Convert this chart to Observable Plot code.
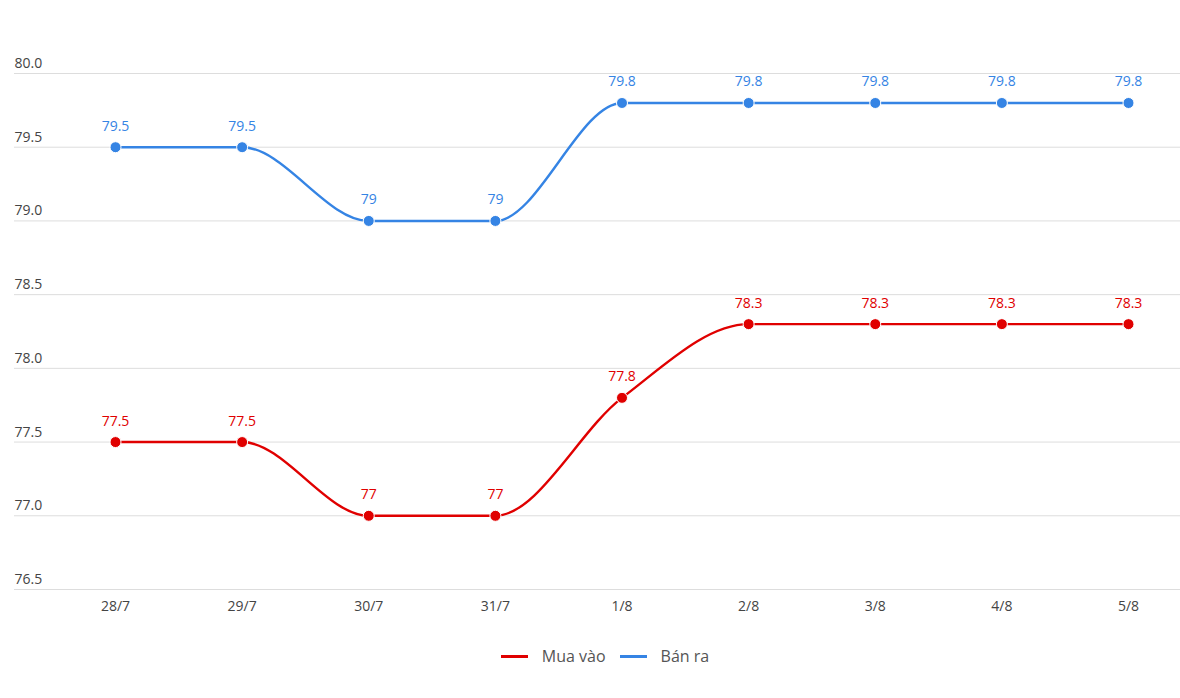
<!DOCTYPE html>
<html><head><meta charset="utf-8">
<script src="https://cdn.jsdelivr.net/npm/d3@7"></script>
<script src="https://cdn.jsdelivr.net/npm/@observablehq/plot@0.6"></script>
<style>
body{margin:0;background:#fff;font-family:"Open Sans",sans-serif;}
#legend{display:flex;justify-content:center;gap:14px;font-size:16px;color:#555;margin-top:15px;font-family:"Open Sans",sans-serif;padding-left:30px;}
#legend span{display:inline-flex;align-items:center;}
#legend i{display:inline-block;width:27px;height:3px;margin-right:14px;}
</style></head><body>
<div id="chart"></div>
<div id="legend"></div>
<script>
const dates = ["28/7","29/7","30/7","31/7","1/8","2/8","3/8","4/8","5/8"];
const muaVao = [77.5,77.5,77,77,77.8,78.3,78.3,78.3,78.3];
const banRa = [79.5,79.5,79,79,79.8,79.8,79.8,79.8,79.8];
const yTicks = [76.5,77,77.5,78,78.5,79,79.5,80];
const seriesNames = ["Mua vào","Bán ra"];
const colors = ["#e00000","#3584e4"];

const data = [];
dates.forEach((d,i)=>{
  data.push({date:d, value:muaVao[i], series:seriesNames[0]});
  data.push({date:d, value:banRa[i], series:seriesNames[1]});
});

const chart = Plot.plot({
  width:1180, height:630,
  marginLeft:14, marginRight:0, marginTop:73, marginBottom:41,
  style:{fontFamily:"'Open Sans',sans-serif", fontSize:"14px"},
  x:{type:"point", domain:dates, range:[115,1128], padding:0, round:false, label:null},
  y:{domain:[76.5,80], label:null, ticks:yTicks},
  color:{domain:seriesNames, range:colors},
  marks:[
    Plot.ruleY(yTicks,{stroke:"#dddddd", strokeWidth:1}),
    Plot.axisY({ticks:yTicks, tickSize:0, textAnchor:"start", dx:9, dy:-10, tickFormat:d=>d.toFixed(1), fill:"#444", fontSize:14, label:null}),
    Plot.axisX({tickSize:0, tickPadding:12, fill:"#444", fontSize:14, label:null}),
    Plot.line(data,{x:"date", y:"value", stroke:"series", curve:"monotone-x", strokeWidth:2.4}),
    Plot.dot(data,{x:"date", y:"value", fill:"series", r:5.5, stroke:"white", strokeWidth:1}),
    Plot.text(data,{x:"date", y:"value", text:d=>String(d.value), fill:"series", dy:-21, fontSize:14})
  ]
});
document.getElementById("chart").appendChild(chart);
const lg = document.getElementById("legend");
seriesNames.forEach((n,i)=>{
  const s=document.createElement("span");
  s.innerHTML=`<i style="background:${colors[i]}"></i>${n}`;
  lg.appendChild(s);
});
</script></body></html>
